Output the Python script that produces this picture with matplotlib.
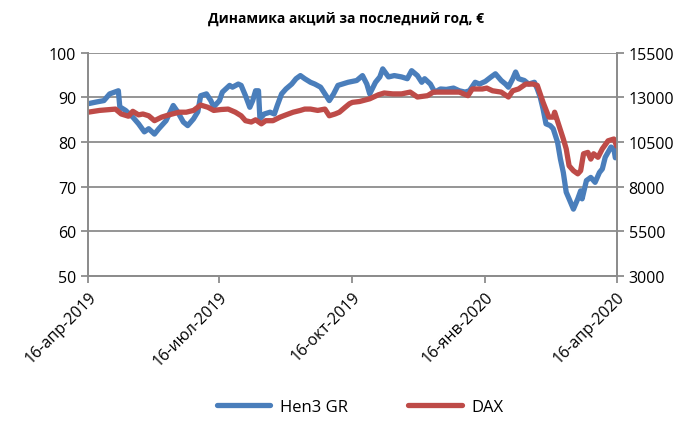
import matplotlib
matplotlib.use('Agg')
import matplotlib.pyplot as plt
import pandas as pd

plt.rcParams['font.family'] = ['Open Sans', 'DejaVu Sans']

# days counted from 16-apr-2019
start = pd.Timestamp('2019-04-16')

hen_days = [0, 6, 11, 15, 21, 22, 26, 31, 35, 39, 42, 46, 49, 54, 59, 62, 66, 69, 73, 76,
            78, 82, 85, 87, 91, 93, 98, 100, 104, 106, 109, 112, 114, 116, 118, 119, 122, 126,
            129, 131, 134, 137, 141, 144, 147, 150, 154, 157, 161, 164, 167, 170, 173, 176, 180,
            183, 186, 190, 193, 195, 199, 202, 204, 208, 212, 217, 221, 224, 228, 231, 233, 237,
            240, 244, 248, 253, 257, 261, 264, 268, 271, 275, 279, 282, 286, 289, 291, 294, 296,
            298, 302, 305, 309, 311, 313, 315, 317, 320, 322, 325, 327, 329, 331, 333, 336, 339,
            341, 342, 345, 348, 351, 354, 356, 358, 362, 364, 365]
hen_price = [88.6, 89.0, 89.3, 90.8, 91.5, 87.9, 87.1, 85.6, 84.1, 82.3, 83.0, 81.8, 83.0, 84.8,
             88.2, 86.8, 84.5, 83.7, 85.2, 86.8, 90.4, 90.8, 89.3, 87.9, 89.3, 91.2, 92.7, 92.3,
             93.0, 92.7, 90.4, 87.8, 89.3, 91.5, 91.5, 85.2, 86.3, 86.7, 86.3, 88.2, 90.8, 91.9,
             93.0, 94.2, 94.9, 94.2, 93.4, 93.0, 92.3, 90.8, 89.3, 90.8, 92.7, 93.0, 93.4, 93.6,
             93.8, 94.9, 93.0, 90.8, 93.4, 94.6, 96.4, 94.6, 94.9, 94.6, 94.2, 96.0, 94.9, 93.4,
             94.2, 93.0, 91.2, 91.9, 91.8, 92.1, 91.5, 91.2, 91.5, 93.4, 93.0, 93.6, 94.6, 95.3,
             93.8, 93.0, 92.3, 94.2, 95.7, 94.2, 93.8, 93.0, 93.4, 91.9, 90.1, 87.4, 84.1, 83.7,
             83.0, 80.0, 76.2, 73.2, 68.8, 67.3, 65.0, 67.3, 69.1, 67.3, 71.4, 72.1, 71.0, 73.2,
             74.0, 76.6, 78.9, 78.5, 76.5]

dax_days = [0, 8, 19, 23, 28, 31, 35, 38, 42, 46, 51, 56, 63, 68, 73, 78, 83, 87, 92, 97,
            102, 106, 109, 113, 116, 120, 123, 128, 133, 137, 142, 147, 150, 154, 159, 164, 167,
            171, 174, 178, 181, 183, 188, 195, 201, 205, 211, 217, 223, 228, 235, 239, 244, 250,
            257, 263, 266, 273, 276, 280, 286, 291, 294, 298, 303, 308, 311, 313, 315, 319, 322,
            323, 326, 329, 331, 333, 336, 339, 341, 343, 346, 348, 350, 353, 356, 360, 364, 366]
dax_level = [12175, 12275, 12350, 12075, 11950, 12225, 12025, 12075, 11975, 11700, 11900, 12025,
             12175, 12175, 12275, 12575, 12450, 12275, 12325, 12350, 12175, 11975, 11700, 11625,
             11750, 11525, 11700, 11700, 11900, 12025, 12175, 12275, 12350, 12350, 12275, 12350,
             11975, 12075, 12175, 12450, 12650, 12725, 12775, 12925, 13150, 13250, 13200, 13200,
             13300, 13025, 13100, 13300, 13300, 13300, 13300, 13100, 13475, 13475, 13525, 13375,
             13300, 13025, 13375, 13475, 13750, 13750, 13675, 13200, 12725, 11900, 11900, 12175,
             11425, 10675, 10125, 9175, 8900, 8725, 8900, 9850, 9925, 9550, 9850, 9650, 10125,
             10575, 10675, 10275]

tick_dates = ['2019-04-16', '2019-07-16', '2019-10-16', '2020-01-16', '2020-04-16']
tick_labels = ['16-апр-2019', '16-июл-2019', '16-окт-2019', '16-янв-2020', '16-апр-2020']

blue = '#4A7EBB'
red = '#BE4B48'
grey = '#8C8C8C'

fig = plt.figure(figsize=(6.93, 4.27), dpi=100)
ax = fig.add_axes([0.127, 0.351, 0.763, 0.523])
ax2 = ax.twinx()

l1, = ax.plot(start + pd.to_timedelta(hen_days, unit='D'), hen_price, color=blue, lw=3.8,
              solid_joinstyle='round', solid_capstyle='round', label='Hen3 GR')
l2, = ax2.plot(start + pd.to_timedelta(dax_days, unit='D'), dax_level, color=red, lw=3.8,
               solid_joinstyle='round', solid_capstyle='round', label='DAX')

ax.set_xlim(start, pd.Timestamp('2020-04-16'))
ax.set_ylim(50, 100)
ax.set_yticks(range(50, 101, 10))
ax2.set_ylim(3000, 15500)
ax2.set_yticks(range(3000, 15501, 2500))
ax.grid(axis='y', color=grey, lw=1.3)
ax.set_axisbelow(True)

ax.set_xticks(pd.to_datetime(tick_dates))
ax.set_xticklabels(tick_labels, rotation=45, ha='right', rotation_mode='anchor')

for a in (ax, ax2):
    for s in a.spines.values():
        s.set_color(grey)
        s.set_linewidth(1.3)
    a.spines['top'].set_visible(False)
    a.tick_params(colors=grey, labelcolor='black', labelsize=11.5, width=1.3, length=5)
ax.tick_params(axis='x', pad=4)

fig.text(0.5, 0.955, 'Динамика акций за последний год, €', ha='center', va='center',
         fontsize=10, fontweight='bold')
fig.legend([l1, l2], ['Hen3 GR', 'DAX'], loc='lower center', bbox_to_anchor=(0.52, -0.01),
           ncol=2, frameon=False, fontsize=12, handlelength=3.2, handletextpad=0.6,
           columnspacing=3.6)

fig.savefig('out.png', dpi=100)
